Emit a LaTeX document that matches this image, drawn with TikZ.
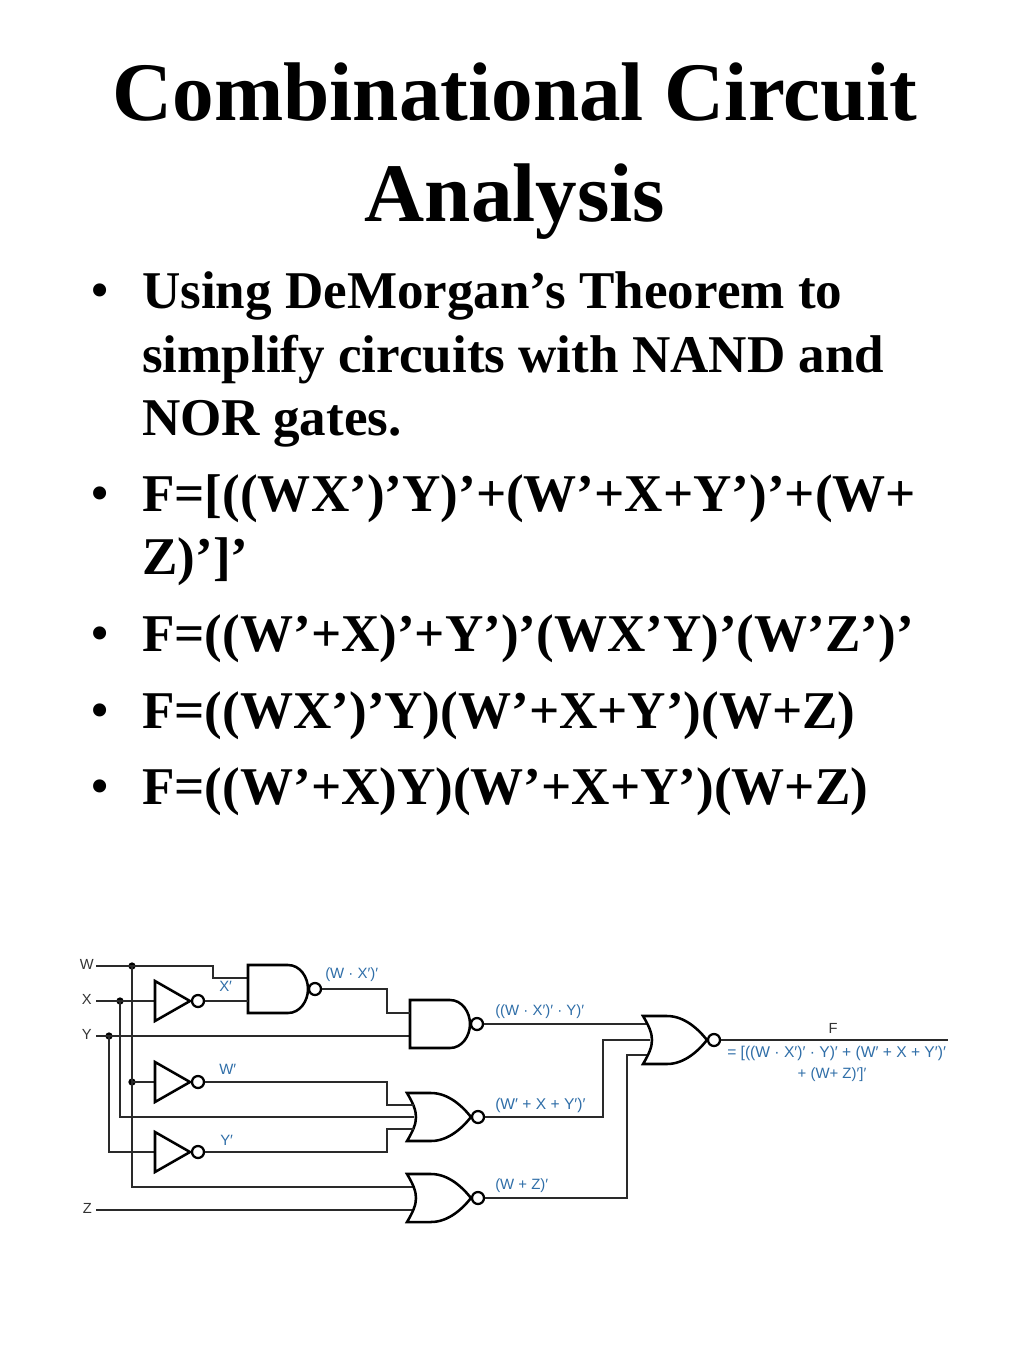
\documentclass[tikz,border=0pt]{standalone}
\usepackage{fontspec}
\setmainfont{Liberation Serif}
\newfontfamily\diagfont{Liberation Sans}
\definecolor{lblue}{HTML}{2F6EA8}
\definecolor{wirec}{HTML}{2A2A2A}
\tikzset{
  titletext/.style={anchor=base,inner sep=0pt,font=\fontsize{62.4}{70}\selectfont\bfseries},
  bodytext/.style={anchor=base west,inner sep=0pt,font=\fontsize{39.8}{44}\selectfont\bfseries},
  bulletmark/.style={anchor=base,inner sep=0pt,font=\fontsize{41}{44}\selectfont},
  wire/.style={draw=wirec,line width=1.1pt},
  gateline/.style={draw=black,line width=1.9pt,line join=miter,fill=white},
  bubble/.style={circle,draw=black,line width=1.7pt,fill=white,minimum size=9pt,inner sep=0pt},
  jdot/.style={circle,fill=black,minimum size=5.5pt,inner sep=0pt},
  pinlabel/.style={inner sep=0pt,text=black!80,font=\diagfont\fontsize{11}{12}\selectfont},
  bluelabel/.style={inner sep=0pt,text=lblue,font=\diagfont\fontsize{11.2}{12}\selectfont},
  bluewide/.style={inner sep=0pt,text=lblue,font=\diagfont\fontsize{11.7}{12}\selectfont},
}
\newcommand{\invgate}[2]{% name, y
  \draw[gateline] (155,#2-20) -- (155,#2+20) -- (190,#2) -- cycle;
  \node[bubble] (#1) at (198,#2) {};
}
\newcommand{\nandgate}[3]{% name, x, ymid
  \draw[gateline] (#2,#3-24) -- (#2+40,#3-24) .. controls (#2+52,#3-24) and (#2+60,#3-12) .. (#2+60,#3) .. controls (#2+60,#3+12) and (#2+52,#3+24) .. (#2+40,#3+24) -- (#2,#3+24) -- cycle;
  \node[bubble] (#1) at (#2+67,#3) {};
}
\newcommand{\norgate}[4]{% name, x, ymid, tip length
  \draw[gateline] (#2,#3-24) .. controls (#2+6,#3-14) and (#2+9,#3-7) .. (#2+9,#3) .. controls (#2+9,#3+7) and (#2+6,#3+14) .. (#2,#3+24) -- (#2+24,#3+24) .. controls (#2+42,#3+24) and (#2+56,#3+10) .. (#2+#4,#3) .. controls (#2+56,#3-10) and (#2+42,#3-24) .. (#2+24,#3-24) -- cycle;
  \node[bubble] (#1) at (#2+#4+7,#3) {};
}
\begin{document}
\begin{tikzpicture}[x=0.75pt,y=-0.75pt]
\useasboundingbox (0,0) rectangle (1024,1365);
\fill[white] (0,0) rectangle (1024,1365);
% title
\node[titletext] (t1) at (515,120) {Combinational Circuit};
\node[titletext] (t2) at (515,221) {Analysis};
% bullets
\node[bulletmark] (b1) at (100,308) {•};
\node[bodytext] (l1) at (142,308) {Using DeMorgan’s Theorem to};
\node[bodytext] (l2) at (142,372) {simplify circuits with NAND and};
\node[bodytext] (l3) at (142,435) {NOR gates.};
\node[bulletmark] (b2) at (100,511) {•};
\node[bodytext] (l4) at (142,511) {F=[((WX’)’Y)’+(W’+X+Y’)’+(W+};
\node[bodytext] (l5) at (142,574) {Z)’]’};
\node[bulletmark] (b3) at (100,651) {•};
\node[bodytext] (l6) at (142,651) {F=((W’+X)’+Y’)’(WX’Y)’(W’Z’)’};
\node[bulletmark] (b4) at (100,728) {•};
\node[bodytext] (l7) at (142,728) {F=((WX’)’Y)(W’+X+Y’)(W+Z)};
\node[bulletmark] (b5) at (100,804) {•};
\node[bodytext] (l8) at (142,804) {F=((W’+X)Y)(W’+X+Y’)(W+Z)};
% input labels
\node[pinlabel,anchor=east] (W) at (94,964) {W};
\node[pinlabel,anchor=east] (X) at (92,999) {X};
\node[pinlabel,anchor=east] (Y) at (92,1034) {Y};
\node[pinlabel,anchor=east] (Z) at (92,1208) {Z};
% coordinates
\coordinate (wstart) at (96,966);
\coordinate (xstart) at (96,1001);
\coordinate (ystart) at (96,1036);
\coordinate (zstart) at (96,1210);
\coordinate (fend) at (948,1040);
\node[jdot] (dW) at (132,966) {};
\node[jdot] (dX) at (120,1001) {};
\node[jdot] (dY) at (109,1036) {};
\node[jdot] (dW2) at (132,1082) {};
\coordinate (i1in) at (155,1001);
\coordinate (i2in) at (155,1082);
\coordinate (i3in) at (155,1152);
\coordinate (n1a) at (248,978);
\coordinate (n1b) at (248,1001);
\coordinate (n2a) at (410,1013);
\coordinate (n2b) at (410,1036);
\coordinate (o1a) at (414,1105);
\coordinate (o1b) at (414,1117);
\coordinate (o1c) at (414,1129);
\coordinate (o2a) at (414,1187);
\coordinate (o2b) at (414,1210);
\coordinate (o3a) at (648,1024);
\coordinate (o3b) at (650,1040);
\coordinate (o3c) at (648,1055);
% wires
\draw[wire] (wstart) -- (213,966) -- (213,978) -- (n1a);
\draw[wire] (xstart) -- (i1in);
\draw[wire] (ystart) -- (n2b);
\draw[wire] (zstart) -- (o2b);
\draw[wire] (dW.center) |- (o2a);
\draw[wire] (dX.center) |- (o1b);
\draw[wire] (dY.center) |- (i3in);
\draw[wire] (dW2.center) -- (i2in);
% gates
\invgate{i1}{1001}
\invgate{i2}{1082}
\invgate{i3}{1152}
\nandgate{n1}{248}{989}
\nandgate{n2}{410}{1024}
\norgate{o1}{407}{1117}{64}
\norgate{o2}{407}{1198}{64}
\draw[wire] (i1) -- (n1b);
\draw[wire] (i2) -- (387,1082) -- (387,1105) -- (o1a);
\draw[wire] (i3) -- (387,1152) -- (387,1129) -- (o1c);
\draw[wire] (n1) -- (387,989) -- (387,1013) -- (n2a);
\draw[wire] (n2) -- (o3a);
\draw[wire] (o1) -- (603,1117) -- (603,1040) -- (o3b);
\draw[wire] (o2) -- (627,1198) -- (627,1055) -- (o3c);
\norgate{o3}{643}{1040}{64}
\draw[wire] (o3) -- (fend);
% blue labels
\node[bluelabel,anchor=west] (lx) at (219,986) {X′};
\node[bluelabel,anchor=west] (lwx) at (325,975) {(W · X′)′};
\node[bluelabel,anchor=west] (lw) at (219,1069) {W′};
\node[bluelabel,anchor=west] (ly) at (220,1140) {Y′};
\node[bluelabel,anchor=west] (l2a) at (495,1012) {((W · X′)′ · Y)′};
\node[bluewide,anchor=west] (l2b) at (495,1105) {(W′ + X + Y′)′};
\node[bluelabel,anchor=west] (l2c) at (495,1186) {(W + Z)′};
\node[pinlabel] (F) at (833,1028) {F};
\node[bluewide,anchor=west] (f1) at (727,1053) {= [((W · X′)′ · Y)′ + (W′ + X + Y′)′};
\node[bluelabel] (f2) at (832,1075) {+ (W+ Z)′]′};
\end{tikzpicture}
\end{document}
